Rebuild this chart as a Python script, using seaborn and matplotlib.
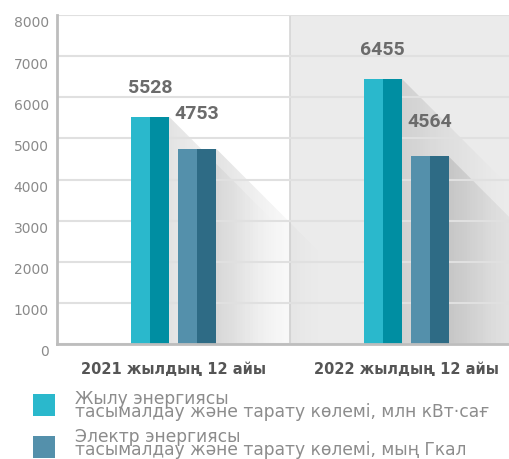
import numpy as np
import pandas as pd
import matplotlib
matplotlib.use("Agg")
import matplotlib.pyplot as plt
import seaborn as sns
from matplotlib.patches import Polygon, Rectangle
from matplotlib.transforms import ScaledTranslation

# chart data
categories = ["2021 жылдың 12 айы", "2022 жылдың 12 айы"]
heat_values = [5528, 6455]
power_values = [4753, 4564]
series_names = [
    "Жылу энергиясы\nтасымалдау және тарату көлемі, млн кВт·сағ",
    "Электр энергиясы\nтасымалдау және тарату көлемі, мың Гкал",
]
y_ticks = [0, 1000, 2000, 3000, 4000, 5000, 6000, 7000, 8000]

light_colors = ["#2ab8cc", "#5490ab"]
dark_colors = ["#008ea2", "#2e6b85"]
label_offsets = [14, 18.5]  # points above the bar top

sns.set_theme(style="white")
plt.rcParams["font.family"] = ["DejaVu Sans"]

df = pd.DataFrame({
    "period": categories * 2,
    "value": heat_values + power_values,
    "series": [series_names[0]] * 2 + [series_names[1]] * 2,
})

fig = plt.figure(figsize=(5.1, 4.59), dpi=100)
ax = fig.add_axes([57 / 510, 115 / 459, 453 / 510, 329 / 459])

sns.barplot(data=df, x="period", y="value", hue="series", hue_order=series_names,
            palette=light_colors, width=0.404, gap=0.19, saturation=1,
            edgecolor="none", linewidth=0, legend=False, ax=ax, zorder=2)

xlim = (-0.501, 1.447)
ylim = (0, 8000)
ax.set_xlim(*xlim)
ax.set_ylim(*ylim)

# grey background for the second period
ax.axvspan(0.5, xlim[1], color="#ebebeb", zorder=0.1, lw=0)
ax.axvline(0.5, color="#d6d6d6", lw=1.2, zorder=0.2)

# pixel scale of data units, used for the long shadows
x0, y0 = ax.transData.transform((0, 0))
x1, y1 = ax.transData.transform((1, 1))
px_x = x1 - x0
px_y = y1 - y0

fade_px = 105
n_strips = 40
bars = [(cont, dark, off) for cont, dark, off in zip(ax.containers, dark_colors, label_offsets)]
for cont, dark, off in bars:
    for bar in cont:
        bx, bw, bh = bar.get_x(), bar.get_width(), bar.get_height()
        xr = bx + bw
        # darker right half of the bar
        ax.bar(bx + bw / 2, bh, width=bw / 2, align="edge", color=dark,
               edgecolor="none", lw=0, zorder=2.1)
        # long diagonal shadow, faded in vertical strips
        tip = xr + bh * px_y / px_x
        tri = Polygon([(xr, bh), (tip, 0), (xr, 0)], closed=True,
                      transform=ax.transData, fill=False, lw=0)
        ax.add_patch(tri)
        sw = fade_px / px_x / n_strips
        for k in range(n_strips):
            a = 0.11 * (1 - k / n_strips) ** 1.3
            strip = Rectangle((xr + k * sw, 0), sw, bh, facecolor=(0, 0, 0, a),
                              edgecolor="none", lw=0, zorder=0.3)
            ax.add_patch(strip)
            strip.set_clip_path(tri)
        ax.annotate(f"{bh:.0f}", (bx + bw / 2, bh), xytext=(0, off), textcoords="offset points",
                    ha="center", va="bottom", fontsize=14, fontweight="bold",
                    family=["Roboto", "DejaVu Sans"],
                    color="#6b6b6b", zorder=3)

ax.set_xlim(*xlim)
ax.set_ylim(*ylim)

ax.set_yticks(y_ticks)
ax.set_yticklabels([str(v) for v in y_ticks])
ax.yaxis.grid(True, color="#e0e0e0", lw=1.5)
ax.set_axisbelow(True)
ax.tick_params(axis="y", length=0, pad=6, labelsize=10, labelcolor="#8a8a8a")
ax.tick_params(axis="x", length=0, pad=13, labelsize=10.5, labelcolor="#555555")
for lab in ax.get_xticklabels():
    lab.set_fontweight("bold")
shift = ScaledTranslation(0, -5 / 72, fig.dpi_scale_trans)
for lab in ax.get_yticklabels():
    lab.set_transform(lab.get_transform() + shift)
ax.set_xlabel("")
ax.set_ylabel("")

for side in ["top", "right"]:
    ax.spines[side].set_visible(False)
for side in ["left", "bottom"]:
    ax.spines[side].set_color("#bdbdbd")
    ax.spines[side].set_linewidth(2)
    ax.spines[side].set_zorder(2.5)

# legend drawn in figure pixels
W, H = 510, 459
for i, (name, col) in enumerate(zip(series_names, light_colors)):
    top = 394 + i * 42
    fig.add_artist(Rectangle((33 / W, 1 - (top + 22) / H), 22 / W, 22 / H,
                             transform=fig.transFigure, color=col, lw=0))
    fig.text(75 / W, 1 - (top - 4 - i * 4) / H, name, ha="left", va="top", fontsize=12.3,
             color="#8c8c8c", linespacing=0.66)

fig.savefig("out.png", dpi=100)
